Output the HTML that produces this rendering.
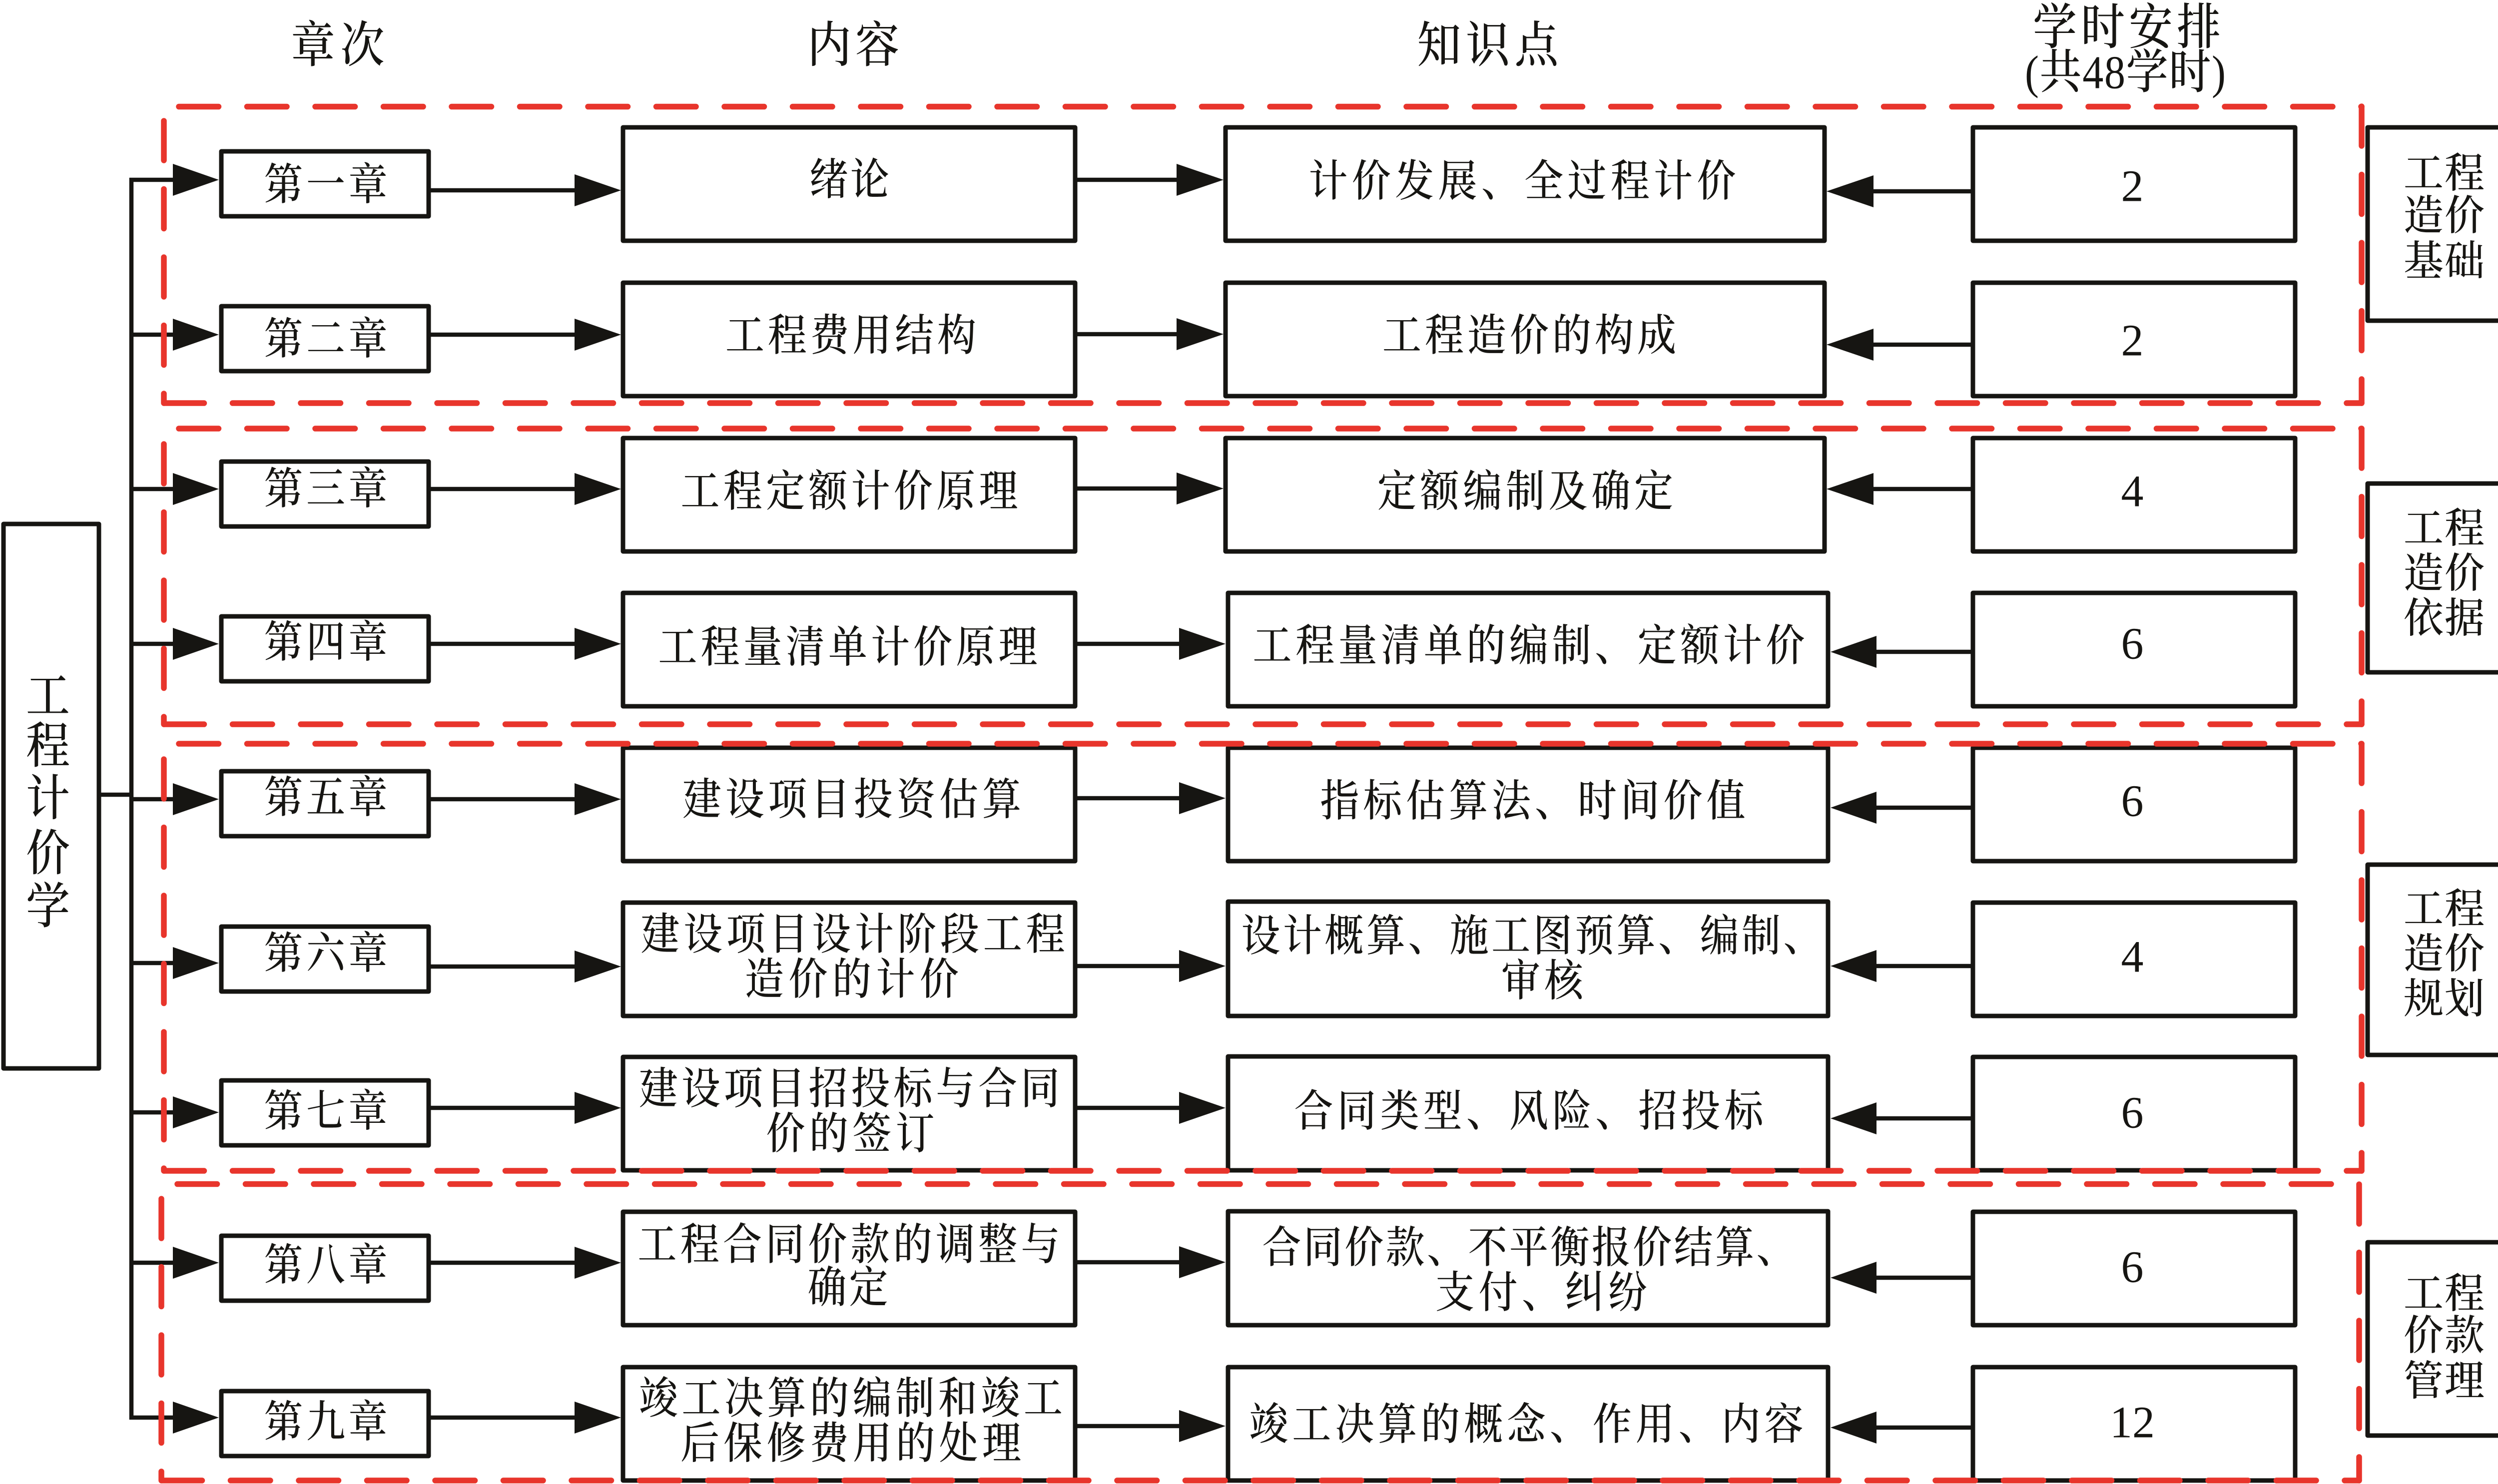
<!DOCTYPE html>
<html lang="zh-CN"><head><meta charset="utf-8"><title>工程计价学</title>
<style>
html,body{margin:0;padding:0;background:#fff}
svg{display:block}
text{font-family:"Liberation Serif","Noto Serif CJK SC",serif;fill:#161512;dominant-baseline:central;text-anchor:middle}
.b,.h,.g{font-weight:500;transform-box:fill-box;transform-origin:center;transform:scaleY(1.12)}
.b{font-size:78px}.h{font-size:88px}.n{font-size:90px}.g{font-size:80px;transform:scaleY(1.04)}
.box rect{fill:#fff;stroke:#161512;stroke-width:9;stroke-linejoin:round}
.ln path{fill:none;stroke:#161512;stroke-width:8.5}
.ar polygon{fill:#161512}
.rh path{fill:none;stroke:#e8352c;stroke-width:11.5;stroke-linecap:round;stroke-dasharray:79.5 57}
.rv path{fill:none;stroke:#e8352c;stroke-width:11.5;stroke-linecap:round;stroke-dasharray:79 57.5}
</style></head><body>
<svg width="5039" height="2971" viewBox="0 0 5039 2971" xmlns="http://www.w3.org/2000/svg">
<rect width="5039" height="2971" fill="#fff"/>
<g class="ln">
<path d="M202 1591H263M263 356V2842"/>
<path d="M259 360H350M263 670H350M263 979H350M263 1289H350M263 1600H350M263 1928H350M263 2227H350M263 2528H350M259 2838H350"/>
<path d="M862 381H1160M862 670H1160M862 979H1160M862 1289H1160M862 1600H1160M862 1935H1160M862 2218H1160M862 2528H1160M862 2838H1160"/>
<path d="M2156 360H2365M2156 669H2365M2156 978H2365M2156 1289H2371M2156 1598H2371M2156 1934H2371M2156 2218H2371M2156 2527H2371M2156 2855H2371"/>
<path d="M3945 383H3740M3945 690H3740M3945 979H3740M3945 1305H3745M3945 1617H3745M3945 1934H3745M3945 2239H3745M3945 2558H3745M3945 2858H3745"/>
</g>
<g class="box">
<rect x="7" y="1049" width="191" height="1090"/>
<rect x="443" y="303" width="415" height="130"/><rect x="443" y="613" width="415" height="130"/><rect x="443" y="924" width="415" height="130"/><rect x="443" y="1234" width="415" height="130"/><rect x="443" y="1544" width="415" height="130"/><rect x="443" y="1855" width="415" height="130"/><rect x="443" y="2163" width="415" height="130"/><rect x="443" y="2474" width="415" height="130"/><rect x="443" y="2785" width="415" height="130"/>
<rect x="1247" y="255" width="905" height="227"/><rect x="1247" y="566" width="905" height="227"/><rect x="1247" y="877" width="905" height="227"/><rect x="1247" y="1187" width="905" height="227"/><rect x="1247" y="1497" width="905" height="227"/><rect x="1247" y="1807" width="905" height="227"/><rect x="1247" y="2116" width="905" height="227"/><rect x="1247" y="2426" width="905" height="227"/><rect x="1247" y="2737" width="905" height="227"/>
<rect x="2453" y="255" width="1199" height="227"/><rect x="2453" y="566" width="1199" height="227"/><rect x="2453" y="877" width="1199" height="227"/><rect x="2458" y="1187" width="1201" height="227"/><rect x="2458" y="1497" width="1201" height="227"/><rect x="2458" y="1805" width="1201" height="229"/><rect x="2458" y="2115" width="1201" height="228"/><rect x="2458" y="2425" width="1201" height="228"/><rect x="2458" y="2737" width="1201" height="227"/>
<rect x="3949" y="255" width="645" height="227"/><rect x="3949" y="566" width="645" height="227"/><rect x="3949" y="877" width="645" height="227"/><rect x="3949" y="1187" width="645" height="227"/><rect x="3949" y="1497" width="645" height="227"/><rect x="3949" y="1807" width="645" height="227"/><rect x="3949" y="2116" width="645" height="227"/><rect x="3949" y="2426" width="645" height="227"/><rect x="3949" y="2737" width="645" height="227"/>
<rect x="4739" y="255" width="295" height="387"/><rect x="4739" y="968" width="295" height="378"/><rect x="4739" y="1731" width="295" height="381"/><rect x="4739" y="2487" width="295" height="387"/>
</g>
<g class="ar">
<polygon points="438,360 346,328 346,392"/><polygon points="438,670 346,638 346,702"/><polygon points="438,979 346,947 346,1011"/><polygon points="438,1289 346,1257 346,1321"/><polygon points="438,1600 346,1568 346,1632"/><polygon points="438,1928 346,1896 346,1960"/><polygon points="438,2227 346,2195 346,2259"/><polygon points="438,2528 346,2496 346,2560"/><polygon points="438,2838 346,2806 346,2870"/>
<polygon points="1243,381 1150,349 1150,413"/><polygon points="1243,670 1150,638 1150,702"/><polygon points="1243,979 1150,947 1150,1011"/><polygon points="1243,1289 1150,1257 1150,1321"/><polygon points="1243,1600 1150,1568 1150,1632"/><polygon points="1243,1935 1150,1903 1150,1967"/><polygon points="1243,2218 1150,2186 1150,2250"/><polygon points="1243,2528 1150,2496 1150,2560"/><polygon points="1243,2838 1150,2806 1150,2870"/>
<polygon points="2449,360 2355,328 2355,392"/><polygon points="2449,669 2355,637 2355,701"/><polygon points="2449,978 2355,946 2355,1010"/><polygon points="2453,1289 2360,1257 2360,1321"/><polygon points="2453,1598 2360,1566 2360,1630"/><polygon points="2453,1934 2360,1902 2360,1966"/><polygon points="2453,2218 2360,2186 2360,2250"/><polygon points="2453,2527 2360,2495 2360,2559"/><polygon points="2453,2855 2360,2823 2360,2887"/>
<polygon points="3656,383 3750,351 3750,415"/><polygon points="3656,690 3750,658 3750,722"/><polygon points="3656,979 3750,947 3750,1011"/><polygon points="3664,1305 3756,1273 3756,1337"/><polygon points="3664,1617 3756,1585 3756,1649"/><polygon points="3664,1934 3756,1902 3756,1966"/><polygon points="3664,2239 3756,2207 3756,2271"/><polygon points="3664,2558 3756,2526 3756,2590"/><polygon points="3664,2858 3756,2826 3756,2890"/>
</g>
<g class="rh">
<path d="M358 213.5H4727"/><path d="M329 807H4727"/>
<path d="M358 858H4727"/><path d="M329 1450H4727"/>
<path d="M358 1489H4727"/><path d="M329 2344H4727"/>
<path d="M355 2370.5H4722"/><path d="M325 2964H4722"/>
</g>
<g class="rv">
<path d="M328 242V807"/><path d="M4727 213V807"/>
<path d="M328 889V1450"/><path d="M4727 858V1450"/>
<path d="M328 1520V2344"/><path d="M4727 1489V2344"/>
<path d="M323 2400V2964"/><path d="M4722 2371V2964"/>
</g>
<!-- headers -->
<text class="h" x="676" y="92" textLength="187">章次</text>
<text class="h" x="1708" y="92" textLength="184">内容</text>
<text class="h" x="2978" y="92" textLength="283">知识点</text>
<text class="h" x="4257" y="56" textLength="376">学时安排</text>
<text class="h" x="4254" y="146" textLength="402" style="font-size:84px">(共48学时)</text>
<!-- left -->
<text class="h" x="96" y="1395">工</text><text class="h" x="96" y="1495">程</text><text class="h" x="96" y="1600">计</text><text class="h" x="96" y="1710">价</text><text class="h" x="96" y="1816">学</text>
<!-- chapters -->
<text class="b" x="652" y="370" textLength="247">第一章</text>
<text class="b" x="652" y="679" textLength="247">第二章</text>
<text class="b" x="652" y="979" textLength="247">第三章</text>
<text class="b" x="652" y="1286" textLength="247">第四章</text>
<text class="b" x="652" y="1597" textLength="247">第五章</text>
<text class="b" x="652" y="1909" textLength="247">第六章</text>
<text class="b" x="652" y="2225" textLength="247">第七章</text>
<text class="b" x="652" y="2533" textLength="247">第八章</text>
<text class="b" x="652" y="2847" textLength="247">第九章</text>
<!-- content -->
<text class="b" x="1700" y="360" textLength="160">绪论</text>
<text class="b" x="1703" y="672" textLength="502">工程费用结构</text>
<text class="b" x="1700" y="984" textLength="675">工程定额计价原理</text>
<text class="b" x="1697" y="1296" textLength="759">工程量清单计价原理</text>
<text class="b" x="1705" y="1601" textLength="678">建设项目投资估算</text>
<text class="b" x="1707" y="1871" textLength="849">建设项目设计阶段工程</text>
<text class="b" x="1705" y="1961" textLength="428">造价的计价</text>
<text class="b" x="1700" y="2180" textLength="842">建设项目招投标与合同</text>
<text class="b" x="1702" y="2270" textLength="337">价的签订</text>
<text class="b" x="1699" y="2492" textLength="845">工程合同价款的调整与</text>
<text class="b" x="1697" y="2578" textLength="161">确定</text>
<text class="b" x="1703" y="2800" textLength="848">竣工决算的编制和竣工</text>
<text class="b" x="1703" y="2890" textLength="682">后保修费用的处理</text>
<!-- knowledge -->
<text class="b" x="3047" y="363" textLength="855">计价发展、全过程计价</text>
<text class="b" x="3061" y="672" textLength="588">工程造价的构成</text>
<text class="b" x="3053" y="984" textLength="592">定额编制及确定</text>
<text class="b" x="3060" y="1293" textLength="1105">工程量清单的编制、定额计价</text>
<text class="b" x="3068" y="1604" textLength="851">指标估算法、时间价值</text>
<text class="b" x="3066" y="1874" textLength="1163">设计概算、施工图预算、编制、</text>
<text class="b" x="3087" y="1964" textLength="164">审核</text>
<text class="b" x="3060" y="2225" textLength="939">合同类型、风险、招投标</text>
<text class="b" x="3060" y="2498" textLength="1067">合同价款、不平衡报价结算、</text>
<text class="b" x="3085" y="2588" textLength="424">支付、纠纷</text>
<text class="b" x="3055" y="2852" textLength="1109">竣工决算的概念、作用、内容</text>
<!-- hours -->
<text class="n" x="4268" y="373">2</text><text class="n" x="4268" y="682">2</text><text class="n" x="4268" y="984">4</text><text class="n" x="4268" y="1289">6</text><text class="n" x="4268" y="1604">6</text><text class="n" x="4268" y="1916">4</text><text class="n" x="4268" y="2228">6</text><text class="n" x="4268" y="2537">6</text><text class="n" x="4268" y="2848">12</text>
<!-- groups -->
<text class="g" x="4892" y="347" textLength="162">工程</text><text class="g" x="4892" y="432" textLength="162">造价</text><text class="g" x="4892" y="523" textLength="162">基础</text>
<text class="g" x="4892" y="1058" textLength="162">工程</text><text class="g" x="4892" y="1148" textLength="162">造价</text><text class="g" x="4892" y="1238" textLength="162">依据</text>
<text class="g" x="4892" y="1820" textLength="162">工程</text><text class="g" x="4892" y="1910" textLength="162">造价</text><text class="g" x="4892" y="2000" textLength="162">规划</text>
<text class="g" x="4892" y="2590" textLength="162">工程</text><text class="g" x="4892" y="2674" textLength="162">价款</text><text class="g" x="4892" y="2765" textLength="162">管理</text>
</svg>
</body></html>
